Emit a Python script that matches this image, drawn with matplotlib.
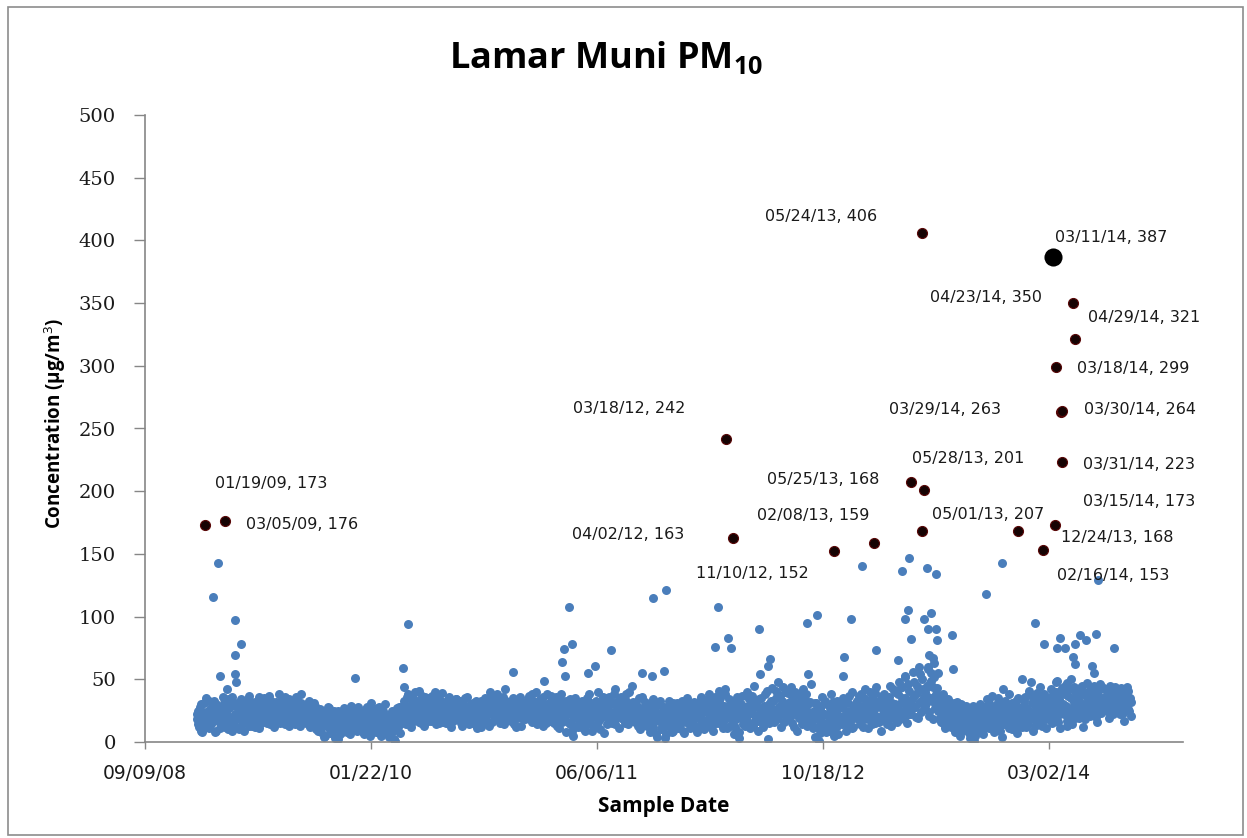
import pandas as pd
import matplotlib.pyplot as plt
import matplotlib.dates as mdates
from matplotlib.patches import Rectangle

plt.rcParams['mathtext.fontset'] = 'custom'
plt.rcParams['mathtext.rm'] = 'Open Sans'
plt.rcParams['mathtext.bf'] = 'Open Sans:bold'

# routine readings (ug/m3), two runs per year:
# run "a" every 3rd day from Jan 1, run "b" every 3rd day from Jan 2
pm_2009 = [18, 25, 12, 30, 8, 22, 15, 35, 20, 11,
           26, 14, 19, 33, 9, 24, 17, 28, 13, 21,
           31, 16, 23, 10, 27, 19, 36, 14, 22, 29,
           12, 25, 18, 34, 21, 9, 28, 16, 24, 37,
           20, 13, 27, 32, 17, 23, 11, 30, 25, 19,
           35, 22, 15, 28, 18, 33, 24, 12, 29, 21,
           26, 38, 17, 23, 31, 14, 27, 20, 34, 25,
           16, 29, 22, 36, 19, 25, 13, 31, 24, 18,
           27, 15, 21, 33, 12, 24, 18, 29, 10, 22,
           14, 26, 8, 19, 23, 5, 17, 28, 11, 20,
           9, 22, 3, 16, 25, 12, 6, 19, 14, 27,
           18, 8, 23, 13, 29, 10, 20, 15, 24, 11, 17, 22]
pm_2009_b = [22, 14, 28, 9, 19, 31, 12, 24, 17, 33,
             15, 27, 21, 8, 30, 18, 25, 11, 23, 36,
             20, 12, 26, 34, 16, 29, 9, 21, 31, 18,
             27, 10, 22, 30, 15, 25, 33, 19, 13, 28,
             32, 17, 24, 12, 29, 21, 36, 15, 26, 22,
             18, 30, 26, 37, 14, 23, 29, 19, 32, 16,
             24, 15, 33, 20, 28, 36, 18, 25, 13, 30,
             29, 21, 14, 27, 33, 17, 24, 38, 20, 26,
             17, 30, 24, 13, 26, 20, 31, 15, 23, 9,
             21, 11, 25, 16, 4, 22, 13, 27, 7, 18,
             15, 25, 10, 20, 2, 17, 23, 8, 21, 12,
             24, 13, 19, 6, 26, 16, 11, 22, 9, 28, 14, 19]
pm_2010 = [12, 21, 6, 26, 15, 9, 19, 31, 11, 17,
           23, 8, 14, 28, 5, 18, 25, 10, 20, 13,
           4, 16, 22, 9, 2, 19, 27, 12, 7, 24,
           18, 33, 25, 14, 38, 21, 29, 16, 35, 23,
           27, 19, 41, 24, 15, 32, 20, 36, 26, 17,
           30, 22, 37, 18, 28, 14, 34, 25, 21, 39,
           16, 29, 23, 33, 19, 26, 12, 31, 24, 20,
           34, 18, 27, 22, 13, 30, 25, 17, 36, 21,
           24, 15, 31, 19, 28, 11, 26, 20, 33, 17,
           22, 35, 18, 29, 25, 40, 16, 31, 27, 21,
           38, 24, 19, 33, 28, 14, 42, 26, 22, 30,
           17, 27, 35, 21, 12, 29, 24, 36, 19, 26, 31, 23]
pm_2010_b = [16, 8, 24, 13, 28, 19, 5, 22, 10, 26,
             11, 19, 27, 13, 7, 23, 16, 30, 9, 21,
             18, 7, 25, 14, 1, 21, 10, 28, 16, 22,
             29, 15, 24, 36, 19, 27, 12, 31, 22, 40,
             21, 33, 16, 28, 37, 23, 13, 30, 25, 35,
             24, 17, 31, 26, 40, 20, 29, 15, 33, 22,
             31, 20, 15, 27, 36, 22, 29, 17, 25, 34,
             22, 28, 33, 15, 26, 19, 35, 23, 29, 14,
             30, 19, 25, 14, 33, 22, 17, 29, 12, 26,
             28, 17, 31, 24, 13, 36, 22, 27, 19, 33,
             23, 30, 15, 27, 36, 21, 33, 18, 29, 25,
             31, 22, 14, 28, 19, 33, 26, 13, 30, 22, 18, 28]
pm_2011 = [28, 20, 37, 25, 16, 33, 22, 40, 27, 19,
           34, 24, 13, 30, 21, 38, 26, 17, 32, 23,
           15, 29, 36, 20, 11, 27, 33, 18, 24, 8,
           22, 31, 14, 26, 5, 19, 35, 24, 12, 28,
           17, 33, 23, 9, 30, 20, 38, 15, 26, 21,
           29, 12, 25, 40, 18, 32, 22, 7, 27, 35,
           20, 36, 24, 15, 31, 42, 19, 28, 11, 25,
           33, 18, 27, 38, 22, 14, 30, 25, 45, 20,
           16, 29, 23, 35, 10, 26, 19, 32, 24, 13,
           27, 8, 21, 34, 17, 25, 4, 30, 19, 23,
           12, 28, 18, 6, 24, 33, 14, 20, 9, 26,
           18, 31, 11, 24, 15, 29, 7, 22, 35, 17, 26, 13]
pm_2011_b = [23, 34, 18, 29, 38, 21, 27, 14, 32, 24,
             19, 28, 36, 22, 15, 26, 31, 20, 37, 17,
             27, 20, 13, 31, 24, 38, 16, 29, 21, 33,
             16, 26, 34, 9, 30, 21, 13, 27, 18, 32,
             25, 11, 28, 20, 35, 14, 24, 31, 9, 27,
             20, 33, 16, 27, 10, 24, 36, 21, 30, 14,
             28, 17, 32, 22, 38, 14, 26, 33, 21, 36,
             19, 29, 15, 33, 27, 40, 20, 24, 32, 17,
             30, 21, 13, 27, 18, 36, 22, 15, 29, 20,
             14, 24, 31, 12, 28, 6, 22, 17, 33, 10,
             27, 16, 3, 22, 13, 29, 19, 8, 31, 15,
             24, 12, 28, 19, 33, 9, 25, 16, 21, 30, 11, 24]
pm_2012 = [24, 14, 32, 19, 8, 27, 21, 36, 16, 25,
           30, 12, 23, 38, 18, 26, 9, 33, 20, 28,
           15, 35, 22, 11, 29, 42, 19, 27, 13, 31,
           24, 6, 33, 18, 26, 3, 21, 37, 14, 28,
           19, 40, 25, 11, 31, 22, 45, 17, 28, 9,
           34, 20, 27, 14, 38, 23, 2, 30, 18, 43,
           26, 16, 35, 21, 48, 29, 12, 33, 24, 40,
           18, 31, 25, 44, 15, 36, 22, 28, 9, 38,
           27, 19, 42, 24, 33, 13, 30, 21, 46, 17,
           25, 4, 31, 18, 1, 27, 36, 12, 22, 8,
           30, 15, 23, 38, 10, 26, 19, 33, 6, 21,
           28, 14, 35, 20, 9, 31, 24, 17, 40, 12, 26, 19]
pm_2012_b = [19, 30, 11, 26, 22, 13, 33, 18, 28, 10,
             25, 17, 34, 21, 12, 29, 24, 36, 15, 22,
             32, 20, 26, 16, 38, 24, 11, 34, 21, 27,
             17, 29, 12, 36, 21, 8, 30, 19, 25, 13,
             28, 16, 34, 23, 37, 13, 29, 20, 33, 17,
             22, 35, 12, 29, 19, 41, 26, 15, 33, 21,
             33, 23, 41, 18, 28, 37, 22, 44, 16, 30,
             25, 39, 20, 33, 27, 12, 40, 23, 31, 19,
             35, 14, 28, 20, 38, 25, 16, 32, 22, 11,
             19, 31, 12, 24, 7, 29, 16, 22, 33, 14,
             21, 9, 27, 16, 32, 5, 24, 13, 29, 18,
             16, 27, 21, 33, 14, 24, 37, 18, 11, 29, 23, 31]
pm_2013 = [33, 22, 14, 38, 25, 18, 42, 27, 11, 30,
           20, 36, 24, 15, 44, 28, 19, 33, 9, 26,
           38, 17, 29, 22, 45, 13, 31, 26, 40, 20,
           27, 48, 18, 35, 24, 52, 30, 15, 41, 33,
           22, 56, 37, 28, 45, 19, 60, 33, 50, 26,
           40, 31, 58, 24, 47, 35, 18, 52, 29, 43,
           25, 36, 16, 30, 21, 11, 28, 34, 19, 24,
           14, 27, 8, 22, 32, 17, 5, 25, 12, 20,
           29, 10, 18, 3, 23, 15, 1, 26, 9, 19,
           13, 30, 21, 6, 25, 16, 34, 11, 22, 28,
           17, 8, 27, 20, 35, 12, 24, 4, 31, 19,
           23, 14, 38, 26, 10, 29, 18, 33, 7, 25, 21, 16]
pm_2013_b = [26, 37, 19, 29, 12, 35, 22, 31, 18, 40,
             31, 14, 27, 39, 21, 33, 16, 28, 37, 22,
             23, 33, 14, 36, 27, 19, 42, 24, 30, 16,
             38, 22, 31, 44, 19, 35, 26, 46, 22, 30,
             34, 27, 48, 20, 39, 31, 54, 24, 42, 36,
             29, 45, 36, 21, 55, 33, 44, 27, 38, 31,
             31, 19, 27, 38, 14, 24, 33, 17, 29, 12,
             22, 31, 17, 12, 26, 20, 30, 9, 23, 16,
             14, 24, 7, 20, 12, 29, 16, 5, 21, 11,
             24, 17, 9, 28, 19, 13, 25, 31, 15, 20,
             26, 13, 21, 30, 16, 9, 28, 22, 14, 33,
             18, 28, 11, 22, 31, 16, 25, 13, 35, 20, 27, 12]
pm_2014 = [28, 19, 36, 12, 25, 41, 20, 31, 9, 24,
           34, 16, 27, 44, 22, 13, 38, 29, 18, 32,
           25, 42, 15, 35, 28, 48, 20, 33, 11, 39,
           30, 22, 45, 17, 37, 26, 50, 14, 32, 41,
           24, 36, 19, 43, 28, 12, 39, 25, 47, 33,
           21, 38, 30, 45, 26, 16, 41, 34, 23, 44,
           35, 27, 42, 31, 19, 45, 36, 28, 40, 24,
           38, 30, 22, 43, 33, 17, 36, 29, 41, 25, 32]
pm_2014_b = [22, 33, 16, 27, 14, 38, 24, 19, 35, 13,
             28, 39, 21, 30, 17, 35, 26, 11, 31, 24,
             36, 18, 30, 22, 40, 27, 16, 34, 25, 43,
             24, 38, 29, 13, 42, 21, 35, 28, 44, 19,
             39, 27, 33, 22, 45, 30, 18, 37, 28, 41,
             29, 43, 24, 36, 20, 39, 31, 46, 27, 35,
             42, 31, 25, 38, 28, 41, 33, 22, 44, 30,
             27, 36, 40, 29, 23, 38, 31, 44, 26, 35, 21]
years = [2009, 2010, 2011, 2012, 2013, 2014]

# higher readings that stand out of the band (still under 150)
spike_dates = ['2009-02-17', '2009-02-06', '2009-03-27', '2009-04-09', '2009-03-28', '2009-02-22',
               '2009-03-26', '2009-03-29', '2009-03-09', '2009-12-17', '2010-04-14', '2010-04-03',
               '2010-04-05', '2010-12-01', '2011-02-08', '2011-03-21', '2011-03-25', '2011-03-26',
               '2011-04-05', '2011-04-12', '2011-05-16', '2011-06-01', '2011-07-07', '2011-09-14',
               '2011-10-05', '2011-10-07', '2011-11-01', '2011-11-06', '2012-02-22', '2012-02-29',
               '2012-03-02', '2012-03-22', '2012-03-28', '2012-05-29', '2012-05-31', '2012-06-19',
               '2012-06-23', '2012-09-13', '2012-09-14', '2012-10-05', '2012-12-02', '2012-12-03',
               '2012-12-19', '2013-01-12', '2013-02-12', '2013-04-02', '2013-04-08', '2013-04-11',
               '2013-04-17', '2013-04-18', '2013-04-24', '2013-04-26', '2013-05-01', '2013-05-29',
               '2013-06-04', '2013-06-05', '2013-06-06', '2013-06-07', '2013-06-10', '2013-06-13',
               '2013-06-14', '2013-06-17', '2013-06-21', '2013-06-24', '2013-06-25', '2013-06-26',
               '2013-06-28', '2013-07-30', '2013-08-01', '2013-10-14', '2013-10-26', '2013-11-18',
               '2013-11-20', '2014-01-01', '2014-01-21', '2014-01-30', '2014-02-19', '2014-03-18',
               '2014-03-19', '2014-03-20', '2014-03-26', '2014-04-06', '2014-04-10', '2014-04-24',
               '2014-04-28', '2014-04-29', '2014-05-10', '2014-05-23', '2014-06-05', '2014-06-09',
               '2014-06-14', '2014-06-18', '2014-07-24']
spike_vals = [143, 116, 97, 78, 69, 53,
              54, 48, 42, 51, 94, 59,
              44, 56, 49, 64, 74, 53,
              108, 78, 55, 61, 73, 55,
              53, 115, 57, 121, 76, 108,
              41, 83, 75, 90, 54, 61,
              66, 95, 54, 101, 53, 68,
              98, 140, 73, 65, 44, 136,
              98, 53, 105, 147, 82, 98,
              44, 139, 60, 90, 69, 49,
              103, 67, 63, 90, 134, 81,
              55, 85, 58, 118, 37, 143,
              42, 50, 48, 95, 78, 40,
              75, 49, 83, 75, 47, 68,
              62, 78, 85, 81, 61, 55,
              86, 129, 75]

# exceedance days, labelled on the chart
hi_dates = ['2009-01-19', '2009-03-05', '2012-03-18', '2012-04-02', '2012-11-10', '2013-02-08',
            '2013-05-01', '2013-05-24', '2013-05-25', '2013-05-28', '2013-12-24', '2014-02-16',
            '2014-03-15', '2014-03-18', '2014-03-29', '2014-03-30', '2014-03-31', '2014-04-23',
            '2014-04-29']
hi_vals = [173, 176, 242, 163, 152, 159,
           207, 406, 168, 201, 168, 153,
           173, 299, 263, 264, 223, 350,
           321]
# where each data label sits, pixels from its point (left edge of the text)
lab_dx = [10, 21, -153, -161, -138, -117, 21, -157, -155, -12, 43, 14, 28, 21, -172, 22, 21, -143, 13]
lab_dy = [42, -3, 30, 3, -22, 27, -32, 16, 52, 31, -6, -25, 24, -1, 3, 1, -2, 6, 22]

max_date = '2014-03-11'
max_val = 387

x_ticks = ['2008-09-09', '2010-01-22', '2011-06-06', '2012-10-18', '2014-03-02']

# ---- build the routine series
base_d = []
base_v = []
runs_a = [pm_2009, pm_2010, pm_2011, pm_2012, pm_2013, pm_2014]
runs_b = [pm_2009_b, pm_2010_b, pm_2011_b, pm_2012_b, pm_2013_b, pm_2014_b]
for yr, va, vb in zip(years, runs_a, runs_b):
    base_d += list(pd.date_range(f'{yr}-01-01', periods=len(va), freq='3D'))
    base_v += va
    base_d += list(pd.date_range(f'{yr}-01-02', periods=len(vb), freq='3D'))
    base_v += vb

blue = '#4a7ebb'
grey = '#868686'
txt = '#1a1a1a'

fig = plt.figure(figsize=(12.47, 8.38), dpi=100)
fig.patches.append(Rectangle((8 / 1247, 3 / 838), 1235 / 1247, 828 / 838, transform=fig.transFigure,
                             fill=False, edgecolor='#8c8c8c', linewidth=1.2))
ax = fig.add_axes([145 / 1247, 96 / 838, 1038 / 1247, 627 / 838])

ax.scatter(base_d, base_v, s=42, color=blue, linewidths=0, zorder=2)
ax.scatter(pd.to_datetime(spike_dates), spike_vals, s=42, color=blue, linewidths=0, zorder=2)
ax.scatter(pd.to_datetime(hi_dates), hi_vals, s=52, color='#160303', edgecolors='#5a0808',
           linewidths=0.8, zorder=3)
ax.scatter([pd.Timestamp(max_date)], [max_val], s=170, color='black', linewidths=0, zorder=4)

for d, v, dx, dy in zip(hi_dates, hi_vals, lab_dx, lab_dy):
    d = pd.Timestamp(d)
    ax.annotate(f'{d:%m/%d/%y}, {v}', (d, v), xytext=(dx, dy), textcoords='offset pixels',
                ha='left', va='center', fontsize=11.5, color=txt, family='DejaVu Sans')
d = pd.Timestamp(max_date)
ax.annotate(f'{d:%m/%d/%y}, {max_val}', (d, max_val), xytext=(2, 19), textcoords='offset pixels',
            ha='left', va='center', fontsize=11.5, color=txt, family='DejaVu Sans')

ax.set_ylim(0, 500)
ax.set_yticks(range(0, 501, 50))
ax.set_xlim(pd.Timestamp('2008-09-09'), pd.Timestamp('2014-12-23'))
ax.set_xticks(pd.to_datetime(x_ticks))
ax.xaxis.set_major_formatter(mdates.DateFormatter('%m/%d/%y'))

for s in ['top', 'right']:
    ax.spines[s].set_visible(False)
for s in ['left', 'bottom']:
    ax.spines[s].set_color(grey)
    ax.spines[s].set_linewidth(1.2)
ax.tick_params(axis='y', direction='out', length=8, width=1, color=grey, pad=13,
               labelsize=14, labelcolor=txt)
ax.tick_params(axis='x', direction='out', length=5, width=1, color=grey, pad=11,
               labelsize=13.5, labelcolor=txt)
for t in ax.get_yticklabels():
    t.set_family('DejaVu Serif')

fig.text(55 / 1247, 1 - 424 / 838, r'Concentration (µg/m$^{3}$)', rotation=90, ha='center', va='center',
         family='Open Sans', fontweight='bold', fontsize=13.5, color='black')
fig.text(664 / 1247, 1 - 806 / 838, 'Sample Date', ha='center', va='center',
         family='Open Sans', fontweight='bold', fontsize=15, color='black')
fig.text(606 / 1247, 1 - 68 / 838, r'Lamar Muni PM$_{\mathbf{10}}$', ha='center', va='baseline',
         family='Open Sans', fontweight='bold', fontsize=26, color='black')

fig.savefig('out.png', dpi=100)
